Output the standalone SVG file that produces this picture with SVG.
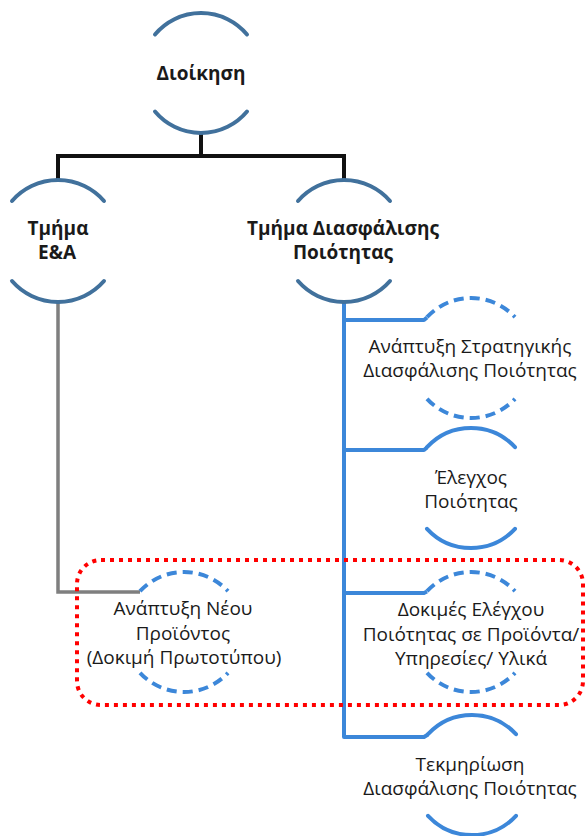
<svg xmlns="http://www.w3.org/2000/svg" width="587" height="836" viewBox="0 0 587 836">
  <style>
    .arc-dark { fill: none; stroke: #41719c; stroke-width: 4; stroke-linecap: round; }
    .arc { fill: none; stroke: #3c87d9; stroke-width: 4; stroke-linecap: round; }
    .dash { stroke-dasharray: 10 6; stroke-linecap: butt; }
    .lbl-b { font-family: "Open Sans", "Noto Sans", sans-serif; font-size: 19px; font-weight: bold; fill: #1a1a1a; text-anchor: middle; }
    .lbl { font-family: "Open Sans", "Noto Sans", sans-serif; font-size: 19px; fill: #1a1a1a; text-anchor: middle; }
    .link-black { fill: none; stroke: #111; stroke-width: 4; }
    .link-gray { fill: none; stroke: #7f7f7f; stroke-width: 3.5; }
    .link-blue { fill: none; stroke: #3c87d9; stroke-width: 4; stroke-linejoin: round; }
    .focus { fill: none; stroke: #ff0000; stroke-width: 4; stroke-dasharray: 4 5; }
  </style>

  <!-- connectors -->
  <g id="connectors">
    <path class="link-black" d="M201,133 V156 M58,156 H344 M58,154 V181 M344,154 V181"/>
    <path class="link-gray" d="M58,302 V592 H140"/>
    <path class="link-blue" d="M344,302 V737 H424 L428,734.5
                               M344,320 H424 L427,317.5
                               M344,450 H424 L427,447.5
                               M344,593 H424 L427,591.5"/>
  </g>

  <!-- top: management -->
  <g id="n-management">
    <path class="arc-dark" d="M155,34.5 A60,60 0 0 1 247,34.5"/>
    <path class="arc-dark" d="M155,111.5 A60,60 0 0 0 247,111.5"/>
    <text class="lbl-b" x="201" y="80">Διοίκηση</text>
  </g>

  <!-- R&D department -->
  <g id="n-rnd">
    <path class="arc-dark" d="M12,201 A61,61 0 0 1 104,201"/>
    <path class="arc-dark" d="M12,281 A61,61 0 0 0 104,281"/>
    <text class="lbl-b" x="58" y="235">Τμήμα</text>
    <text class="lbl-b" x="57" y="259">Ε&amp;Α</text>
  </g>

  <!-- QA department -->
  <g id="n-qa">
    <path class="arc-dark" d="M298,201 A61,61 0 0 1 390,201"/>
    <path class="arc-dark" d="M298,281 A61,61 0 0 0 390,281"/>
    <text class="lbl-b" x="343" y="235">Τμήμα Διασφάλισης</text>
    <text class="lbl-b" x="343" y="259">Ποιότητας</text>
  </g>

  <!-- QA strategy -->
  <g id="n-strategy">
    <path class="arc dash" d="M427,317.2 A60,60 0 0 1 515,317.2"/>
    <path class="arc dash" d="M427,398.8 A60,60 0 0 0 515,398.8"/>
    <text class="lbl" x="470" y="353">Ανάπτυξη Στρατηγικής</text>
    <text class="lbl" x="470" y="377">Διασφάλισης Ποιότητας</text>
  </g>

  <!-- quality control -->
  <g id="n-control">
    <path class="arc" d="M427,447.2 A60,60 0 0 1 515,447.2"/>
    <path class="arc" d="M427,528.8 A60,60 0 0 0 515,528.8"/>
    <text class="lbl" x="471" y="484">Έλεγχος</text>
    <text class="lbl" x="471" y="508">Ποιότητας</text>
  </g>

  <!-- quality testing -->
  <g id="n-testing">
    <path class="arc dash" d="M427,591.2 A60,60 0 0 1 515,591.2"/>
    <path class="arc dash" d="M427,672.8 A60,60 0 0 0 515,672.8"/>
    <text class="lbl" x="471" y="616">Δοκιμές Ελέγχου</text>
    <text class="lbl" x="471" y="641">Ποιότητας σε Προϊόντα/</text>
    <text class="lbl" x="471" y="665">Υπηρεσίες/ Υλικά</text>
  </g>

  <!-- new product development -->
  <g id="n-newproduct">
    <path class="arc dash" d="M140,591.2 A60,60 0 0 1 228,591.2"/>
    <path class="arc dash" d="M140,672.8 A60,60 0 0 0 228,672.8"/>
    <text class="lbl" x="183" y="615">Ανάπτυξη Νέου</text>
    <text class="lbl" x="183" y="640">Προϊόντος</text>
    <text class="lbl" x="184" y="664">(Δοκιμή Πρωτοτύπου)</text>
  </g>

  <!-- QA documentation -->
  <g id="n-docs">
    <path class="arc" d="M428,734.2 A60,60 0 0 1 516,734.2"/>
    <path class="arc" d="M428,815.8 A60,60 0 0 0 516,815.8"/>
    <text class="lbl" x="470" y="771">Τεκμηρίωση</text>
    <text class="lbl" x="470" y="795">Διασφάλισης Ποιότητας</text>
  </g>

  <!-- highlighted group -->
  <rect id="focus-frame" class="focus" x="77" y="560" width="506" height="145" rx="24" ry="24"/>
</svg>
